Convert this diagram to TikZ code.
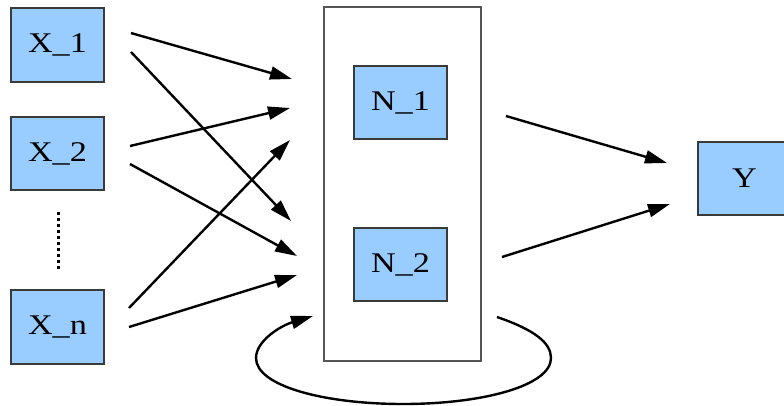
\documentclass[tikz,border=0pt]{standalone}
\usepackage{fontspec}
\newfontfamily\lblfont[FakeStretch=1.2]{Liberation Serif}
\usetikzlibrary{arrows.meta}

\definecolor{unitfill}{HTML}{99CCFF}
\definecolor{unitline}{HTML}{3A3A3A}
\definecolor{frameline}{HTML}{555555}

\tikzset{
  unit/.style={draw=unitline, line width=1.5pt, fill=unitfill, rectangle,
    minimum width=93pt, minimum height=73pt, inner sep=0pt,
    font=\lblfont\fontsize{28.5}{32}\selectfont},
  netframe/.style={draw=frameline, line width=1.5pt, rectangle, inner sep=0pt,
    minimum width=157pt, minimum height=354pt},
  link/.style={line width=2.4pt, -{Triangle[length=22pt, width=13pt]}},
}

\begin{document}
\begin{tikzpicture}[x=1pt, y=-1pt]
  \useasboundingbox (0,0) rectangle (784,405);

  % hidden-layer frame and units
  \node[netframe] (net) at (402.5,184) {};
  \node[unit] (N1) at (400.5,102.5) {N\_1};
  \node[unit] (N2) at (400.5,264.5) {N\_2};

  % inputs and output
  \node[unit, minimum height=74pt] (X1) at (57.5,45) {X\_1};
  \node[unit] (X2) at (57.5,153.5) {X\_2};
  \node[unit, minimum height=74pt] (Xn) at (57.5,327) {X\_n};
  \node[unit] (Y) at (744.5,178.5) {Y};

  % ellipsis between X_2 and X_n
  \coordinate (dtop) at (58,212);
  \coordinate (dbot) at (58,270);
  \draw[line width=3pt, dash pattern=on 3pt off 3pt] (dtop) -- (dbot);

  % arrow end points
  \coordinate (a1s) at (131,33);  \coordinate (a1e) at (292,79);
  \coordinate (a2s) at (131,52);  \coordinate (a2e) at (291,221);
  \coordinate (a3s) at (130,146); \coordinate (a3e) at (290,108);
  \coordinate (a4s) at (130,164); \coordinate (a4e) at (297,256);
  \coordinate (a5s) at (129,308); \coordinate (a5e) at (290,140);
  \coordinate (a6s) at (129,327); \coordinate (a6e) at (297,275);
  \coordinate (b1s) at (506,116); \coordinate (b1e) at (667,163);
  \coordinate (b2s) at (502,257); \coordinate (b2e) at (670,204);

  \draw[link] (a1s) -- (a1e);
  \draw[link] (a2s) -- (a2e);
  \draw[link] (a3s) -- (a3e);
  \draw[link] (a4s) -- (a4e);
  \draw[link] (a5s) -- (a5e);
  \draw[link] (a6s) -- (a6e);
  \draw[link] (b1s) -- (b1e);
  \draw[link] (b2s) -- (b2e);

  % recurrent loop under the frame
  \coordinate (ls) at (497,317);
  \coordinate (le) at (313,316);
  \draw[link] (ls) .. controls (535,330) and (551,343) .. (551,358)
    .. controls (551,386) and (482,404) .. (403,404)
    .. controls (324,404) and (256,386) .. (256,358)
    .. controls (256,341) and (280,326) .. (le);
\end{tikzpicture}
\end{document}
